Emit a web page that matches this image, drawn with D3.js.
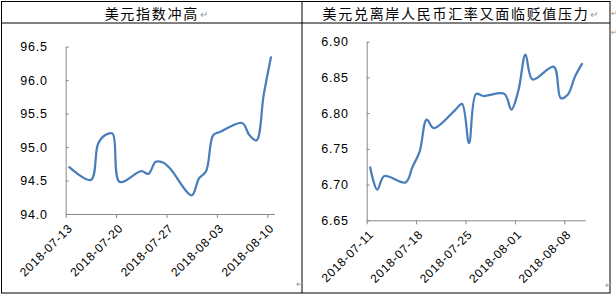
<!DOCTYPE html>
<html>
<head>
<meta charset="utf-8">
<script src="https://cdn.jsdelivr.net/npm/d3@7"></script>
<style>
  body { margin: 0; background: #fff; }
  svg { display: block; }
</style>
</head>
<body>
<div id="chart"></div>
<script>
// values (daily closes, weekdays only)
const leftTitle = "美元指数冲高";
const leftDates = ["2018-07-13", "2018-07-16", "2018-07-17", "2018-07-18", "2018-07-19", "2018-07-20",
  "2018-07-23", "2018-07-24", "2018-07-25", "2018-07-26", "2018-07-27",
  "2018-07-30", "2018-07-31", "2018-08-01", "2018-08-02", "2018-08-03",
  "2018-08-06", "2018-08-07", "2018-08-08", "2018-08-09", "2018-08-10"];
const leftValues = [94.70, 94.51, 95.05, 95.18, 95.20, 94.48,
  94.64, 94.60, 94.78, 94.77, 94.68,
  94.28, 94.53, 94.64, 95.18, 95.23,
  95.36, 95.18, 95.10, 95.78, 96.34];
const leftYTicks = [94.0, 94.5, 95.0, 95.5, 96.0, 96.5];
const leftXTicks = ["2018-07-13", "2018-07-20", "2018-07-27", "2018-08-03", "2018-08-10"];

const rightTitle = "美元兑离岸人民币汇率又面临贬值压力";
const rightDates = ["2018-07-11", "2018-07-12", "2018-07-13", "2018-07-16", "2018-07-17", "2018-07-18",
  "2018-07-19", "2018-07-20", "2018-07-23", "2018-07-24", "2018-07-25", "2018-07-26", "2018-07-27",
  "2018-07-30", "2018-07-31", "2018-08-01", "2018-08-02", "2018-08-03",
  "2018-08-06", "2018-08-07", "2018-08-08", "2018-08-09", "2018-08-10"];
const rightValues = [6.724, 6.693, 6.712, 6.703, 6.725, 6.746,
  6.791, 6.779, 6.804, 6.813, 6.758, 6.827, 6.824,
  6.827, 6.805, 6.832, 6.882, 6.847,
  6.865, 6.821, 6.826, 6.851, 6.869];
const rightYTicks = [6.65, 6.70, 6.75, 6.80, 6.85, 6.90];
const rightXTicks = ["2018-07-11", "2018-07-18", "2018-07-25", "2018-08-01", "2018-08-08"];

const w = 616, h = 298;
const parse = d3.utcParse("%Y-%m-%d");
const lineColor = "#4a7ebb", axisColor = "#898989";

const svg = d3.select("#chart").append("svg")
  .attr("width", w)
  .attr("height", h);

// the Word table round both charts
const tbl = { left: 1.5, top: 1.5, right: 610, bottom: 293, mid: 302, head: 23 };
svg.append("rect")
  .attr("x", tbl.left).attr("y", tbl.top)
  .attr("width", tbl.right - tbl.left).attr("height", tbl.bottom - tbl.top)
  .attr("fill", "none").attr("stroke", "#000");
svg.append("line")
  .attr("x1", tbl.left).attr("x2", tbl.right).attr("y1", tbl.head).attr("y2", tbl.head)
  .attr("stroke", "#000");
svg.append("line")
  .attr("x1", tbl.mid).attr("x2", tbl.mid).attr("y1", tbl.top).attr("y2", tbl.bottom)
  .attr("stroke", "#000");

function title(text, cx) {
  const t = svg.append("text")
    .attr("x", cx).attr("y", 18.5)
    .attr("text-anchor", "middle")
    .style("font-family", "'Noto Sans CJK SC'")
    .style("font-size", "14px")
    .style("letter-spacing", "1.7px")
    .attr("fill", "#000")
    .text(text);
  const bb = t.node().getBBox();
  svg.append("text")
    .attr("x", bb.x + bb.width + 1).attr("y", 18)
    .style("font-size", "10px")
    .attr("fill", "#999")
    .text("↵");
}
title(leftTitle, (tbl.left + tbl.mid) / 2);
title(rightTitle, (tbl.mid + tbl.right) / 2);

// paragraph marks Word leaves around the table
[[610.5, 16, 7.5], [610.5, 35, 7.5], [296, 287, 9], [605, 288, 9]].forEach(p => {
  svg.append("text").attr("x", p[0]).attr("y", p[1])
    .style("font-size", p[2] + "px").attr("fill", "#999").text("↵");
});

function panel(cfg) {
  const x = d3.scaleUtc()
    .domain(cfg.xDomain.map(parse))
    .range([cfg.x0, cfg.x1]);
  const y = d3.scaleLinear()
    .domain(d3.extent(cfg.yTicks))
    .range([cfg.y0, cfg.y1]);

  const g = svg.append("g");

  const yAxis = d3.axisLeft(y)
    .tickValues(cfg.yTicks)
    .tickFormat(d3.format(cfg.fmt))
    .tickSizeInner(-3)
    .tickSizeOuter(0)
    .tickPadding(18);
  const ya = g.append("g")
    .attr("transform", `translate(${cfg.x0},0)`)
    .call(yAxis);
  ya.selectAll("text")
    .style("font-family", "'Liberation Sans', Arial, sans-serif")
    .style("font-size", "12.5px")
    .style("letter-spacing", "0.8px")
    .attr("fill", "#000");

  const xAxis = d3.axisBottom(x)
    .tickValues(cfg.xTicks.map(parse))
    .tickFormat(d3.utcFormat("%Y-%m-%d"))
    .tickSizeInner(4)
    .tickSizeOuter(0);
  const xa = g.append("g")
    .attr("transform", `translate(0,${cfg.y0})`)
    .call(xAxis);
  xa.selectAll("text")
    .attr("x", 0).attr("y", 0).attr("dy", 0)
    .attr("transform", "translate(7,15) rotate(-45)")
    .style("text-anchor", "end")
    .style("font-family", "'Liberation Sans', Arial, sans-serif")
    .style("font-size", "12px")
    .style("letter-spacing", "0.7px")
    .attr("fill", "#000");

  g.selectAll(".domain, .tick line").attr("stroke", axisColor);

  // Excel date axis: points sit in the middle of each day
  const line = d3.line()
    .x(d => x(d3.utcHour.offset(parse(d[0]), 12)))
    .y(d => y(d[1]))
    .curve(d3.curveCatmullRom.alpha(0.5));

  g.append("path")
    .datum(d3.zip(cfg.dates, cfg.values))
    .attr("d", line)
    .attr("fill", "none")
    .attr("stroke", lineColor)
    .attr("stroke-width", 2.25)
    .attr("stroke-linecap", "round");
}

panel({
  dates: leftDates, values: leftValues, yTicks: leftYTicks, xTicks: leftXTicks,
  xDomain: ["2018-07-13", "2018-08-11"], fmt: ".1f",
  x0: 65.7, x1: 274.5, y0: 214, y1: 46.7
});
panel({
  dates: rightDates, values: rightValues, yTicks: rightYTicks, xTicks: rightXTicks,
  xDomain: ["2018-07-11", "2018-08-11"], fmt: ".2f",
  x0: 366.7, x1: 585.5, y0: 220.3, y1: 41.7
});
</script>
</body>
</html>
